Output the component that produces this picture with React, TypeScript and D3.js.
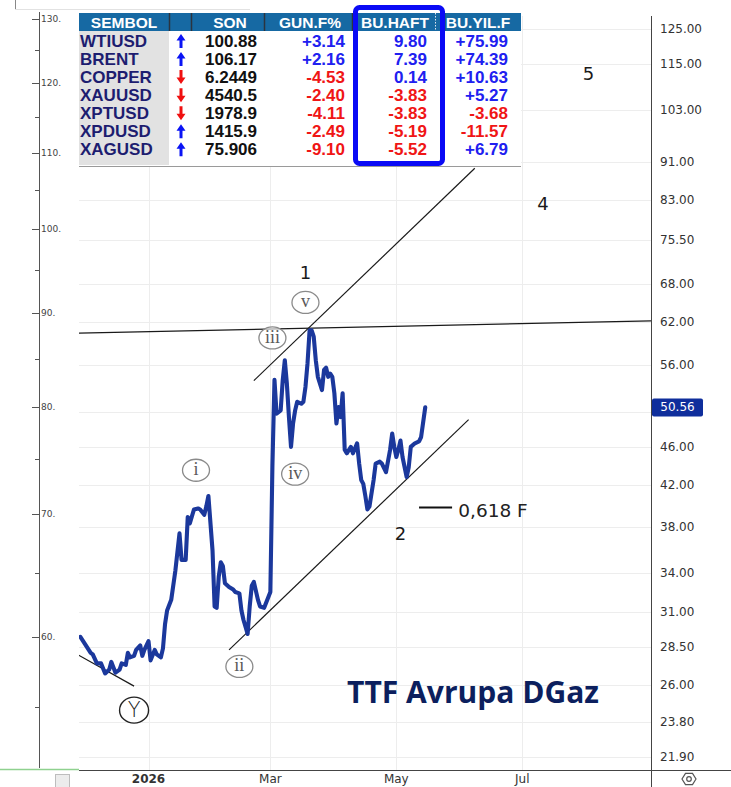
import React from "react";
import * as d3 from "d3";

const W = 731;
const H = 787;

// ---- TTF price series (EUR/MWh) ----
const dates = [
  "2025-11-29","2025-12-04","2025-12-05","2025-12-07","2025-12-09","2025-12-11","2025-12-13","2025-12-14",
  "2025-12-16","2025-12-18","2025-12-19","2025-12-21","2025-12-22","2025-12-23","2025-12-25","2025-12-26",
  "2025-12-28","2025-12-29","2025-12-30","2026-01-01","2026-01-02","2026-01-04","2026-01-05","2026-01-07",
  "2026-01-08","2026-01-09","2026-01-10","2026-01-12","2026-01-14","2026-01-16","2026-01-17","2026-01-19",
  "2026-01-20","2026-01-21","2026-01-23","2026-01-25","2026-01-26","2026-01-28","2026-01-29","2026-01-30",
  "2026-02-01","2026-02-02","2026-02-03","2026-02-04","2026-02-05","2026-02-06","2026-02-07","2026-02-09",
  "2026-02-11","2026-02-12","2026-02-14","2026-02-15","2026-02-16","2026-02-18","2026-02-19","2026-02-20",
  "2026-02-21","2026-02-23","2026-02-24","2026-02-26","2026-02-28","2026-03-01","2026-03-02","2026-03-03",
  "2026-03-04","2026-03-06","2026-03-07","2026-03-08","2026-03-09","2026-03-10","2026-03-11","2026-03-12",
  "2026-03-13","2026-03-14","2026-03-16","2026-03-17","2026-03-18","2026-03-19","2026-03-20","2026-03-21",
  "2026-03-22","2026-03-23","2026-03-24","2026-03-26","2026-03-27","2026-03-28","2026-03-29","2026-03-30",
  "2026-03-31","2026-04-01","2026-04-02","2026-04-03","2026-04-04","2026-04-05","2026-04-06","2026-04-07",
  "2026-04-09","2026-04-10","2026-04-12","2026-04-13","2026-04-14","2026-04-15","2026-04-16","2026-04-17",
  "2026-04-18","2026-04-20","2026-04-21","2026-04-23","2026-04-24","2026-04-26","2026-04-28","2026-04-29",
  "2026-04-30","2026-05-01","2026-05-02","2026-05-03","2026-05-04","2026-05-06","2026-05-07","2026-05-08",
  "2026-05-10","2026-05-12","2026-05-13","2026-05-15"
];
const prices = [
  29.2, 28.1, 28.0, 27.4, 27.4, 26.75, 27.0, 27.5,
  26.8, 27.0, 27.4, 27.3, 28.1, 27.8, 27.9, 28.3,
  28.6, 27.9, 28.3, 28.9, 27.6, 28.3, 28.0, 27.8,
  28.4, 30.1, 31.1, 31.9, 34.2, 37.4, 35.1, 35.1,
  38.9, 38.3, 39.6, 39.7, 39.6, 39.1, 39.9, 40.9,
  35.9, 31.4, 31.3, 33.7, 34.9, 34.6, 33.2, 32.9,
  32.7, 32.5, 32.4, 31.1, 30.4, 29.4, 31.4, 33.0,
  33.3, 31.9, 31.4, 31.3, 32.1, 32.5, 44.0, 54.0,
  49.8, 50.2, 54.0, 56.6, 53.5, 49.4, 46.0, 48.65,
  50.2, 51.25, 51.0, 51.25, 53.1, 56.2, 60.8, 60.8,
  59.9, 56.6, 54.4, 52.7, 55.3, 55.6, 54.4, 54.8,
  54.4, 52.3, 48.65, 50.6, 49.4, 52.3, 45.7, 45.3,
  46.0, 45.3, 46.4, 44.2, 42.5, 42.1, 40.9, 39.6,
  39.9, 42.5, 44.2, 44.4, 44.2, 43.3, 45.7, 47.5,
  46.0, 44.9, 45.7, 46.7, 44.9, 42.8, 43.8, 46.0,
  46.4, 46.6, 47.1, 50.56
];
const lastPrice = 50.56;

// ---- axes ----
const rightTicks = [125, 115, 103, 91, 83, 75.5, 68, 62, 56, 46, 42, 38, 34, 31, 28.5, 26, 23.8, 21.9];
const hiddenGrid = [50];
const leftTicks = [130, 120, 110, 100, 90, 80, 70, 60];
const leftMinor = [125, 115, 105, 95, 85, 75, 65, 55];
const monthTicks = ["2026-01-01", "2026-03-01", "2026-05-01", "2026-07-01"];
const monthLabels = ["2026", "Mar", "May", "Jul"];

// ---- table ----
const headers = ["SEMBOL", "", "SON", "GUN.F%", "BU.HAFT", "BU.YIL.F"];
const symbols = ["WTIUSD", "BRENT", "COPPER", "XAUUSD", "XPTUSD", "XPDUSD", "XAGUSD"];
const trend = ["up", "up", "down", "down", "down", "up", "up"];
const son = ["100.88", "106.17", "6.2449", "4540.5", "1978.9", "1415.9", "75.906"];
const gunF = [3.14, 2.16, -4.53, -2.40, -4.11, -2.49, -9.10];
const buHaft = [9.80, 7.39, 0.14, -3.83, -3.83, -5.19, -5.52];
const buYil = [75.99, 74.39, 10.63, 5.27, -3.68, -11.57, 6.79];

// ---- annotations (date, price) ----
const trendLines = [
  { d1: "2025-11-28", v1: 60.4, d2: "2026-09-02", v2: 62.2 },
  { d1: "2026-02-21", v1: 53.9, d2: "2026-06-08", v2: 89.6 },
  { d1: "2026-02-09", v1: 28.3, d2: "2026-06-05", v2: 49.1 },
  { d1: "2025-11-28", v1: 27.96, d2: "2025-12-25", v2: 25.95 },
];
const fibLine = { d1: "2026-05-12", d2: "2026-05-28", v: 39.8, textDate: "2026-05-31", text: "0,618 F" };
const waveNums = [
  { t: "1", d: "2026-03-18", v: 69.9 },
  { t: "2", d: "2026-05-03", v: 37.4 },
  { t: "4", d: "2026-07-11", v: 82.4 },
  { t: "5", d: "2026-08-02", v: 112.5 },
];
const circled = [
  { t: "v", d: "2026-03-18", v: 65.0 },
  { t: "iii", d: "2026-03-02", v: 59.7 },
  { t: "i", d: "2026-01-24", v: 43.5 },
  { t: "iv", d: "2026-03-13", v: 43.1 },
  { t: "ii", d: "2026-02-14", v: 27.2 },
];
const circledY = { t: "Y", d: "2025-12-25", v: 24.5 };
const title = "TTF Avrupa DGaz";

const parse = d3.utcParse("%Y-%m-%d");
const P = (s: string) => parse(s) as Date;

export default function App() {
  const left = 79, right = 651, top = 16, bottom = 770;
  const x = d3.scaleUtc().domain([P("2025-11-28"), P("2026-09-02")]).range([78.3, 652.4]);
  const yR = d3.scaleLog().domain([21.23, 129.0]).range([bottom, top]);
  const yL = d3.scaleLog().domain([50.8, 130.5]).range([bottom, top]);

  const data = dates.map((d, i) => ({ t: P(d), v: prices[i] }));
  const line = d3.line<{ t: Date; v: number }>().x(d => x(d.t)).y(d => yR(d.v));

  const fmtSigned = (v: number) => (v > 0 ? "+" : "") + v.toFixed(2);
  const colOf = (v: number) => (v >= 0 ? "#2020f0" : "#f01515");

  const rowBase = (i: number) => 47 + i * 18.05;
  const tableFont = "'Liberation Sans', Arial, sans-serif";
  const axisFont = "'DejaVu Sans', Verdana, sans-serif";

  const hex = d3.range(6).map(k => {
    const a = (Math.PI / 3) * k;
    return [689 + 7 * Math.cos(a), 779 + 6.5 * Math.sin(a)];
  });

  return (
    <div style={{ position: "absolute", left: 0, top: 0 }}>
      <svg width={W} height={H} style={{ display: "block", background: "#fff" }}>
        <defs>
          <clipPath id="plot">
            <rect x={left} y={top} width={right - left} height={bottom - top} />
          </clipPath>
        </defs>

        {/* top artifacts */}
        <line x1={15.5} x2={15.5} y1={0} y2={9} stroke="#888" />
        <line x1={15} x2={250} y1={9.5} y2={9.5} stroke="#e2e2e2" />

        {/* gridlines */}
        <g stroke="#ededed" strokeWidth={1}>
          {[...rightTicks, ...hiddenGrid].map((v, i) => (
            <line key={"h" + i} x1={left} x2={right} y1={Math.round(yR(v)) + 0.5} y2={Math.round(yR(v)) + 0.5} />
          ))}
          {monthTicks.map((m, i) => (
            <line key={"v" + i} x1={Math.round(x(P(m))) + 0.5} x2={Math.round(x(P(m))) + 0.5} y1={top} y2={bottom} />
          ))}
        </g>

        {/* trend lines */}
        <g clipPath="url(#plot)" stroke="#1a1a1a" strokeWidth={1.2} fill="none">
          {trendLines.map((l, i) => (
            <line key={i} x1={x(P(l.d1))} y1={yR(l.v1)} x2={x(P(l.d2))} y2={yR(l.v2)} />
          ))}
        </g>

        {/* price line */}
        <g clipPath="url(#plot)">
          <path d={line(data) || ""} fill="none" stroke="#1b389c" strokeWidth={4.1} strokeLinejoin="round" strokeLinecap="round" />
        </g>

        {/* fib level */}
        <line x1={x(P(fibLine.d1))} x2={x(P(fibLine.d2))} y1={yR(fibLine.v)} y2={yR(fibLine.v)} stroke="#111" strokeWidth={2} />
        <text x={x(P(fibLine.textDate))} y={yR(fibLine.v) + 3} dominantBaseline="central" fontFamily={axisFont} fontSize={18.5} fill="#222">{fibLine.text}</text>

        {/* wave numbers */}
        {waveNums.map((w, i) => (
          <text key={i} x={x(P(w.d))} y={yR(w.v)} textAnchor="middle" dominantBaseline="central" fontFamily={axisFont} fontSize={18} fill="#1a1a1a">{w.t}</text>
        ))}

        {/* circled sub-waves */}
        {circled.map((c, i) => (
          <g key={i}>
            <ellipse cx={x(P(c.d))} cy={yR(c.v)} rx={13.5} ry={11} fill="#fff" fillOpacity={0.6} stroke="#8a8a8a" strokeWidth={1.3} />
            <text x={x(P(c.d))} y={yR(c.v) - 1} textAnchor="middle" dominantBaseline="central" fontFamily="'Liberation Serif', 'DejaVu Serif', serif" fontSize={18} fill="#5a5a5a">{c.t}</text>
          </g>
        ))}
        <ellipse cx={x(P(circledY.d))} cy={yR(circledY.v)} rx={14.5} ry={13} fill="none" stroke="#222" strokeWidth={1.4} />
        <text x={x(P(circledY.d))} y={yR(circledY.v)} textAnchor="middle" dominantBaseline="central" fontFamily={axisFont} fontSize={21} fontWeight={300} fill="#222">{circledY.t}</text>

        {/* title */}
        <text x={347} y={703} fontFamily="'Open Sans', 'Noto Sans', sans-serif" fontWeight={700} fontSize={30} fill="#0c1f5e" textLength={252} lengthAdjust="spacingAndGlyphs">{title}</text>

        {/* right axis */}
        <line x1={651.5} x2={651.5} y1={top} y2={H} stroke="#444" />
        {rightTicks.map((v, i) => (
          <text key={i} x={660} y={yR(v)} dominantBaseline="central" fontFamily={axisFont} fontSize={12} fill="#333">{v.toFixed(2)}</text>
        ))}
        <rect x={652} y={yR(lastPrice) - 9} width={51} height={18} rx={2} fill="#0f2e9c" />
        <text x={677.5} y={yR(lastPrice)} textAnchor="middle" dominantBaseline="central" fontFamily={axisFont} fontSize={12} fill="#fff">{lastPrice.toFixed(2)}</text>

        {/* bottom axis */}
        <line x1={left} x2={W} y1={770.5} y2={770.5} stroke="#444" />
        <line x1={0} x2={left} y1={769.5} y2={769.5} stroke="#8fd18f" strokeWidth={1.5} />
        <rect x={55.5} y={774.5} width={14} height={13} fill="#ececec" stroke="#bdbdbd" />
        {monthTicks.map((m, i) => (
          <text key={i} x={x(P(m))} y={783} textAnchor="middle" fontFamily={axisFont} fontSize={12} fontWeight={i === 0 ? 700 : 400} fill="#333">{monthLabels[i]}</text>
        ))}
        <polygon points={hex.map(p => p.join(",")).join(" ")} fill="none" stroke="#555" strokeWidth={1.2} />
        <circle cx={689} cy={779} r={2.3} fill="none" stroke="#555" strokeWidth={1.2} />

        {/* left axis */}
        <line x1={39.5} x2={39.5} y1={12} y2={768} stroke="#555" />
        {leftTicks.map((v, i) => (
          <g key={i}>
            <line x1={32} x2={39} y1={Math.round(yL(v)) + 0.5} y2={Math.round(yL(v)) + 0.5} stroke="#555" />
            <text x={41} y={yL(v)} dominantBaseline="central" fontFamily={axisFont} fontSize={9} fill="#444">{v + "."}</text>
          </g>
        ))}
        {leftMinor.map((v, i) => (
          <line key={i} x1={35} x2={39} y1={Math.round(yL(v)) + 0.5} y2={Math.round(yL(v)) + 0.5} stroke="#555" />
        ))}

        {/* table */}
        <g fontFamily={tableFont} fontWeight={700}>
          <rect x={79} y={13} width={442} height={154} fill="#fff" />
          <rect x={79} y={31} width={90} height={134} fill="#e2e2e2" />
          <rect x={79} y={13} width={442} height={18} fill="#1669a3" />
          {[169, 191, 264, 352, 444].map((sx, i) => (
            <line key={i} x1={sx + 0.5} x2={sx + 0.5} y1={13} y2={31} stroke="#2b3440" strokeWidth={1.5} />
          ))}
          <line x1={435.5} x2={435.5} y1={13} y2={31} stroke="#dfe6ee" strokeDasharray="1.5,1.5" />
          <line x1={79} x2={521} y1={166.5} y2={166.5} stroke="#9a9a9a" />
          {[124, 181, 230, 310, 395, 478].map((cx, i) => (
            <text key={i} x={cx} y={28} textAnchor="middle" fontSize={15.5} fill="#fff">{headers[i]}</text>
          ))}
          {symbols.map((s, i) => {
            const b = rowBase(i);
            const up = trend[i] === "up";
            const ac = up ? "#0a14f5" : "#f01010";
            const arrow = up
              ? `M181,${b - 13} L185.5,${b - 6.5} L182.5,${b - 6.5} L182.5,${b + 1} L179.5,${b + 1} L179.5,${b - 6.5} L176.5,${b - 6.5} Z`
              : `M181,${b + 1} L185.5,${b - 5.5} L182.5,${b - 5.5} L182.5,${b - 13} L179.5,${b - 13} L179.5,${b - 5.5} L176.5,${b - 5.5} Z`;
            return (
              <g key={s} fontSize={17}>
                <text x={80} y={b} fill="#1d1d70">{s}</text>
                <path d={arrow} fill={ac} />
                <text x={257} y={b} textAnchor="end" fill="#111">{son[i]}</text>
                <text x={345} y={b} textAnchor="end" fill={colOf(gunF[i])}>{fmtSigned(gunF[i])}</text>
                <text x={427} y={b} textAnchor="end" fill={colOf(buHaft[i])}>{buHaft[i].toFixed(2)}</text>
                <text x={508} y={b} textAnchor="end" fill={colOf(buYil[i])}>{fmtSigned(buYil[i])}</text>
              </g>
            );
          })}
          <rect x={355.5} y={7.5} width={87} height={156} rx={4} fill="none" stroke="#0a0af5" strokeWidth={5} />
        </g>
      </svg>
    </div>
  );
}
